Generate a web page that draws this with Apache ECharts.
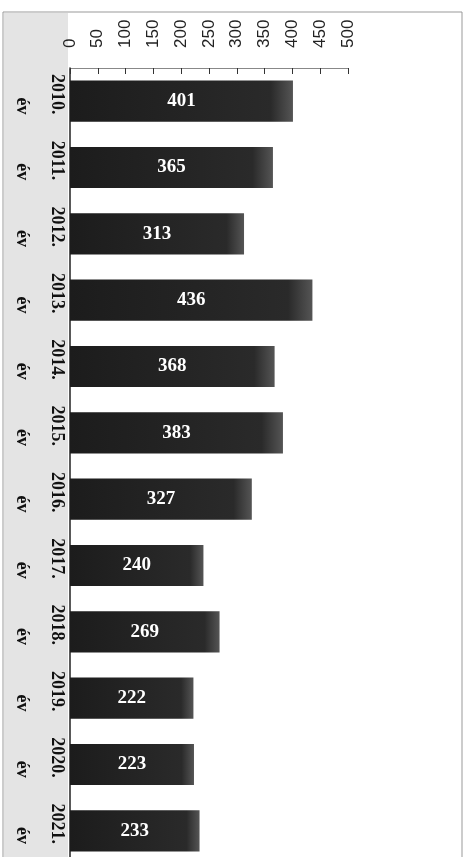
<!DOCTYPE html>
<html><head><meta charset="utf-8">
<script src="https://cdn.jsdelivr.net/npm/echarts@6/dist/echarts.min.js"></script>
<style>html,body{margin:0;padding:0;background:#fff}#c{width:465px;height:857px}</style>
</head><body><div id="c"></div>
<script>
const years = ['2010.','2011.','2012.','2013.','2014.','2015.','2016.','2017.','2018.','2019.','2020.','2021.'];
const suffix = 'év';
const values = [401,365,313,436,368,383,327,240,269,222,223,233];
const tickMin = 0, tickMax = 500, tickStep = 50;

const chart = echarts.init(document.getElementById('c'));
chart.setOption({
  backgroundColor: '#fff',
  animation: false,
  graphic: [{type:'rect', shape:{x:3,y:12,width:459,height:860}, style:{fill:'none', stroke:'#999', lineWidth:1}, silent:true},
            {type:'rect', shape:{x:4,y:13,width:64,height:850}, style:{fill:'#e4e4e4'}, silent:true, z:-1}],
  grid: {left: 70, right: 117, top: 68, bottom: -7, containLabel: false, outerBoundsMode: 'none'},
  xAxis: {
    type: 'value', position: 'top', min: tickMin, max: tickMax, interval: tickStep,
    axisLine: {show: true, lineStyle: {color: '#888', width: 1}},
    axisTick: {show: true, inside: true, length: 6, lineStyle: {color: '#333'}},
    splitLine: {show: false},
    axisLabel: {rotate: -90, color: '#222', fontFamily: 'Liberation Sans', fontSize: 17, margin: 20}
  },
  yAxis: {
    type: 'category', inverse: true,
    data: years.map(y => '{a|' + y + '}\n{b|' + suffix + '}'),
    axisLine: {show: true, lineStyle: {color: '#222', width: 1.5}},
    axisTick: {show: false},
    axisLabel: {rotate: -90, color: '#111', margin: 2, align: 'center', verticalAlign: 'top', padding: [0, 14, 0, 0],
      rich: {
        a: {align: 'right', fontFamily: 'Liberation Serif', fontWeight: 'bold', fontSize: 18, lineHeight: 22, color: '#111'},
        b: {align: 'right', fontFamily: 'Liberation Serif', fontWeight: 'bold', fontSize: 18, lineHeight: 48, color: '#111'}
      }}
  },
  series: [{
    type: 'bar', data: values, barCategoryGap: '38%',
    itemStyle: {color: {type:'linear', x:0, y:0, x2:1, y2:0, colorStops:[{offset:0,color:'#1c1c1c'},{offset:0.9,color:'#2a2a2a'},{offset:1,color:'#555'}]}},
    label: {show: true, position: 'inside', color: '#fff', fontFamily: 'Liberation Serif', fontWeight: 'bold', fontSize: 19}
  }]
});
</script></body></html>
